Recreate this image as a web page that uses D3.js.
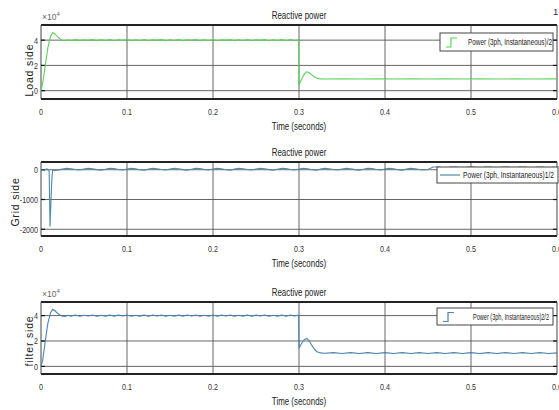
<!DOCTYPE html>
<html>
<head>
  <meta charset="utf-8">
  <title>Reactive power</title>
  <script src="https://d3js.org/d3.v7.min.js"></script>
  <style>
    body { margin: 0; background: #fff; }
    svg { display: block; }
    .tick-label { font-family: "Liberation Sans", Arial, sans-serif; font-size: 9.5px; fill: #333; }
    .title { font-family: "Liberation Sans", Arial, sans-serif; font-size: 11px; fill: #222; text-anchor: middle; }
    .ylab { font-family: "Liberation Sans", Arial, sans-serif; font-size: 10.5px; fill: #222; text-anchor: middle; letter-spacing: 0.8px; }
    .legend text { font-family: "Liberation Sans", Arial, sans-serif; font-size: 9px; fill: #222; }
  </style>
</head>
<body>
  <svg width="559" height="410"></svg>
  <script>
    // x axis (seconds)
    const timeTicks = [0, 0.1, 0.2, 0.3, 0.4, 0.5, 0.6];

    // y ticks per panel
    const loadTicks = [0, 2, 4];
    const gridTicks = [-2000, -1000, 0];
    const filterTicks = [0, 2, 4];

    const titles = ["Reactive power", "Reactive power", "Reactive power"];
    const yLabels = ["Load side", "Grid side", "filter side"];
    const legendLabels = [
      "Power (3ph, Instantaneous)/2",
      "Power (3ph, Instantaneous)1/2",
      "Power (3ph, Instantaneous)2/2"
    ];

    // load side reactive power (x10^4), [time, value]
    const loadSide = [
      [0, 0], [0.002, 0.6], [0.005, 2.0], [0.008, 3.4], [0.011, 4.3], [0.0135, 4.6],
      [0.016, 4.5], [0.019, 4.3], [0.022, 4.1], [0.025, 3.98], [0.028, 3.95], [0.031, 4.02],
      [0.035, 3.97], [0.04, 4.04], [0.045, 3.96], [0.05, 4.03], [0.055, 3.98], [0.06, 4.05],
      [0.065, 3.96], [0.07, 4.02], [0.075, 3.97], [0.08, 4.04], [0.085, 3.95], [0.09, 4.03],
      [0.095, 3.98], [0.1, 4.04], [0.105, 3.96], [0.11, 4.02], [0.115, 3.97], [0.12, 4.05],
      [0.125, 3.96], [0.13, 4.03], [0.135, 3.98], [0.14, 4.04], [0.145, 3.95], [0.15, 4.02],
      [0.155, 3.97], [0.16, 4.04], [0.165, 3.96], [0.17, 4.03], [0.175, 3.98], [0.18, 4.05],
      [0.185, 3.96], [0.19, 4.02], [0.195, 3.97], [0.2, 4.04], [0.205, 3.95], [0.21, 4.03],
      [0.215, 3.98], [0.22, 4.04], [0.225, 3.96], [0.23, 4.02], [0.235, 3.97], [0.24, 4.05],
      [0.245, 3.96], [0.25, 4.03], [0.255, 3.98], [0.26, 4.04], [0.265, 3.95], [0.27, 4.02],
      [0.275, 3.97], [0.28, 4.04], [0.285, 3.96], [0.29, 4.05], [0.295, 3.97], [0.2995, 4.03],
      [0.3, 0.45], [0.303, 0.9], [0.306, 1.3], [0.309, 1.5], [0.312, 1.42], [0.315, 1.25],
      [0.318, 1.08], [0.321, 0.98], [0.325, 0.93], [0.33, 0.92], [0.35, 0.93], [0.37, 0.92],
      [0.39, 0.93], [0.41, 0.92], [0.43, 0.93], [0.45, 0.92], [0.47, 0.93], [0.49, 0.92],
      [0.51, 0.93], [0.53, 0.92], [0.55, 0.93], [0.57, 0.92], [0.6, 0.93]
    ];

    // grid side reactive power, [time, value]
    const gridSide = [
      [0, 0], [0.004, -20], [0.007, 30], [0.0095, -50], [0.0105, -1900], [0.0125, -400],
      [0.0135, 0], [0.016, -30], [0.02, -10], [0.025, 20], [0.03, 45], [0.035, 35],
      [0.04, 10], [0.045, -10], [0.05, 20], [0.055, 45], [0.06, 35], [0.065, 5],
      [0.07, -15], [0.075, 15], [0.08, 45], [0.085, 40], [0.09, 10], [0.095, -10],
      [0.1, 25], [0.105, 45], [0.11, 30], [0.115, 0], [0.12, -15], [0.125, 20],
      [0.13, 45], [0.135, 35], [0.14, 10], [0.145, -10], [0.15, 20], [0.155, 45],
      [0.16, 35], [0.165, 5], [0.17, -15], [0.175, 15], [0.18, 45], [0.185, 40],
      [0.19, 10], [0.195, -10], [0.2, 25], [0.205, 45], [0.21, 30], [0.215, 0],
      [0.22, -15], [0.225, 20], [0.23, 45], [0.235, 35], [0.24, 10], [0.245, -10],
      [0.25, 20], [0.255, 45], [0.26, 35], [0.265, 5], [0.27, -15], [0.275, 15],
      [0.28, 45], [0.285, 40], [0.29, 10], [0.295, -10], [0.3, 25], [0.305, 45],
      [0.31, 30], [0.315, 0], [0.32, -15], [0.325, 20], [0.33, 45], [0.335, 35],
      [0.34, 10], [0.345, -10], [0.35, 20], [0.355, 45], [0.36, 35], [0.365, 5],
      [0.37, -15], [0.375, 15], [0.38, 45], [0.385, 40], [0.39, 10], [0.395, -10],
      [0.4, 25], [0.405, 45], [0.41, 30], [0.415, 0], [0.42, -15], [0.425, 20],
      [0.43, 45], [0.435, 35], [0.44, 10], [0.445, -10], [0.45, 10], [0.456, 90],
      [0.464, 90], [0.47, 10], [0.476, 90], [0.484, 90], [0.49, 10], [0.496, 90],
      [0.504, 90], [0.51, 10], [0.516, 90], [0.524, 90], [0.53, 10], [0.536, 90],
      [0.544, 90], [0.55, 10], [0.556, 90], [0.564, 90], [0.57, 10], [0.576, 90],
      [0.584, 90], [0.59, 10], [0.596, 90], [0.6, 60]
    ];

    // filter side reactive power (x10^4), [time, value]
    const filterSide = [
      [0, 0], [0.002, 0.5], [0.005, 2.0], [0.008, 3.4], [0.011, 4.2], [0.0135, 4.5],
      [0.016, 4.4], [0.019, 4.2], [0.022, 4.05], [0.025, 3.95], [0.028, 3.93], [0.031, 4.02],
      [0.035, 3.96], [0.04, 4.05], [0.045, 3.95], [0.05, 4.03], [0.055, 3.97], [0.06, 4.05],
      [0.065, 3.95], [0.07, 4.03], [0.075, 3.96], [0.08, 4.05], [0.085, 3.96], [0.09, 4.04],
      [0.095, 3.97], [0.1, 4.05], [0.105, 3.95], [0.11, 4.03], [0.115, 3.96], [0.12, 4.05],
      [0.125, 3.95], [0.13, 4.04], [0.135, 3.97], [0.14, 4.05], [0.145, 3.95], [0.15, 4.03],
      [0.155, 3.96], [0.16, 4.05], [0.165, 3.95], [0.17, 4.04], [0.175, 3.97], [0.18, 4.05],
      [0.185, 3.95], [0.19, 4.03], [0.195, 3.96], [0.2, 4.05], [0.205, 3.95], [0.21, 4.04],
      [0.215, 3.97], [0.22, 4.05], [0.225, 3.95], [0.23, 4.03], [0.235, 3.96], [0.24, 4.05],
      [0.245, 3.95], [0.25, 4.04], [0.255, 3.97], [0.26, 4.05], [0.265, 3.95], [0.27, 4.03],
      [0.275, 3.96], [0.28, 4.05], [0.285, 3.95], [0.29, 4.04], [0.295, 3.97], [0.2995, 4.04],
      [0.3, 1.45], [0.303, 1.8], [0.306, 2.1], [0.309, 2.2], [0.312, 2.0], [0.315, 1.65],
      [0.318, 1.35], [0.321, 1.15], [0.325, 1.06], [0.33, 1.03], [0.34, 1.08], [0.35, 1.02],
      [0.36, 1.08], [0.37, 1.02], [0.38, 1.08], [0.39, 1.02], [0.4, 1.08], [0.41, 1.02],
      [0.42, 1.08], [0.43, 1.02], [0.44, 1.08], [0.45, 1.02], [0.46, 1.08], [0.47, 1.02],
      [0.48, 1.08], [0.49, 1.02], [0.5, 1.08], [0.51, 1.02], [0.52, 1.08], [0.53, 1.02],
      [0.54, 1.08], [0.55, 1.02], [0.56, 1.08], [0.57, 1.02], [0.58, 1.08], [0.59, 1.02],
      [0.6, 1.06]
    ];

    const svg = d3.select("svg");

    const x = d3.scaleLinear().domain([0, 0.6]).range([41, 557]);

    // squeeze a text horizontally to look like a narrow font
    function narrow(sel, k) {
      sel.each(function() {
        const w = this.getComputedTextLength();
        d3.select(this).attr("textLength", w * k).attr("lengthAdjust", "spacingAndGlyphs");
      });
    }

    // layout for each panel
    const panels = [
      { data: loadSide, ticks: loadTicks, yDomain: [-0.66, 5.2], top: 25, bottom: 99,
        color: "#5cd35c", legendIcon: "step", exp: true, ylabX: 33, ylabY: 70,
        legend: { x: 440, y: 33, w: 113, h: 18, textX: 468, textW: 84 } },
      { data: gridSide, ticks: gridTicks, yDomain: [-2226, 260], top: 162, bottom: 236,
        color: "#4f8aa8", legendIcon: "line", exp: false, ylabX: 19, ylabY: 202,
        legend: { x: 437, y: 167, w: 121, h: 16, textX: 463, textW: 91 } },
      { data: filterSide, ticks: filterTicks, yDomain: [-0.6, 5.07], top: 302, bottom: 374,
        color: "#4a84b0", legendIcon: "step", exp: true, ylabX: 33, ylabY: 341,
        legend: { x: 437, y: 308, w: 116, h: 17, textX: 473, textW: 76 } }
    ];

    panels.forEach((p, i) => {
      const y = d3.scaleLinear().domain(p.yDomain).range([p.bottom, p.top]);
      const g = svg.append("g");

      // grid
      g.selectAll(".vgrid")
        .data(timeTicks.slice(1, -1))
        .enter().append("line")
        .attr("x1", d => x(d)).attr("x2", d => x(d))
        .attr("y1", p.top).attr("y2", p.bottom)
        .attr("stroke", "#555").attr("stroke-width", 0.9);

      g.selectAll(".hgrid")
        .data(p.ticks)
        .enter().append("line")
        .attr("x1", x(0)).attr("x2", x(0.6))
        .attr("y1", d => y(d)).attr("y2", d => y(d))
        .attr("stroke", "#555").attr("stroke-width", 0.9);

      // frame
      g.append("line").attr("x1", x(0)).attr("x2", x(0.6))
        .attr("y1", p.top).attr("y2", p.top)
        .attr("stroke", "#222").attr("stroke-width", 1.8);
      g.append("line").attr("x1", x(0)).attr("x2", x(0.6))
        .attr("y1", p.bottom).attr("y2", p.bottom)
        .attr("stroke", "#222").attr("stroke-width", 1.8);
      g.append("line").attr("x1", x(0)).attr("x2", x(0))
        .attr("y1", p.top).attr("y2", p.bottom)
        .attr("stroke", "#444").attr("stroke-width", 1);
      g.append("line").attr("x1", x(0.6)).attr("x2", x(0.6))
        .attr("y1", p.top).attr("y2", p.bottom)
        .attr("stroke", "#444").attr("stroke-width", 1);

      // y tick marks both sides
      p.ticks.forEach(t => {
        g.append("line").attr("x1", x(0)).attr("x2", x(0) + 4)
          .attr("y1", y(t)).attr("y2", y(t)).attr("stroke", "#111").attr("stroke-width", 1.2);
        g.append("line").attr("x1", x(0.6) - 4).attr("x2", x(0.6))
          .attr("y1", y(t)).attr("y2", y(t)).attr("stroke", "#111").attr("stroke-width", 1.2);
      });

      // series
      const line = d3.line().x(d => x(d[0])).y(d => y(d[1]));
      g.append("path")
        .datum(p.data)
        .attr("d", line)
        .attr("fill", "none")
        .attr("stroke", p.color)
        .attr("stroke-width", 1.1)
        .attr("stroke-linejoin", "round");

      // tick labels
      g.selectAll(".xt")
        .data(timeTicks)
        .enter().append("text")
        .attr("class", "tick-label")
        .attr("x", d => x(d))
        .attr("y", p.bottom + 16)
        .attr("text-anchor", "middle")
        .text(d => d3.format("")(d))
        .call(narrow, 0.75);

      g.selectAll(".yt")
        .data(p.ticks)
        .enter().append("text")
        .attr("class", "tick-label")
        .attr("x", x(0) - 3)
        .attr("y", d => y(d) + 3.5)
        .attr("text-anchor", "end")
        .text(d => d)
        .call(narrow, 0.75);

      if (p.exp) {
        const e = g.append("text").attr("class", "tick-label")
          .attr("x", x(0) + 1).attr("y", p.top - 5)
          .style("font-size", "8.5px").style("fill", "#666");
        e.append("tspan").text("\u00d710");
        e.append("tspan").attr("dy", -4).style("font-size", "6px").text("4");
      }

      // titles
      g.append("text").attr("class", "title")
        .attr("x", 299).attr("y", p.top - 6)
        .text(titles[i])
        .call(narrow, 0.72);
      g.append("text").attr("class", "title")
        .attr("x", 299).attr("y", p.bottom + 31)
        .text("Time (seconds)")
        .call(narrow, 0.72);

      g.append("text").attr("class", "ylab")
        .attr("transform", `translate(${p.ylabX},${p.ylabY}) rotate(-90)`)
        .text(yLabels[i]);

      // legend
      const L = p.legend;
      const lg = g.append("g").attr("class", "legend");
      lg.append("rect")
        .attr("x", L.x).attr("y", L.y).attr("width", L.w).attr("height", L.h)
        .attr("fill", "#fff").attr("stroke", "#444").attr("stroke-width", 1);
      const cy = L.y + L.h / 2;
      if (p.legendIcon === "step") {
        lg.append("path")
          .attr("d", `M${L.x + 6},${cy + 5} H${L.x + 11} V${cy - 4} H${L.x + 17}`)
          .attr("fill", "none").attr("stroke", p.color).attr("stroke-width", 1.2);
      } else {
        lg.append("line")
          .attr("x1", L.x + 3).attr("x2", L.x + 23)
          .attr("y1", cy).attr("y2", cy)
          .attr("stroke", p.color).attr("stroke-width", 1.2);
      }
      lg.append("text")
        .attr("x", L.textX).attr("y", cy + 3)
        .attr("textLength", L.textW).attr("lengthAdjust", "spacingAndGlyphs")
        .text(legendLabels[i]);
    });

    svg.append("text").attr("class", "tick-label")
      .attr("x", 553).attr("y", 15).text("1");
  </script>
</body>
</html>
